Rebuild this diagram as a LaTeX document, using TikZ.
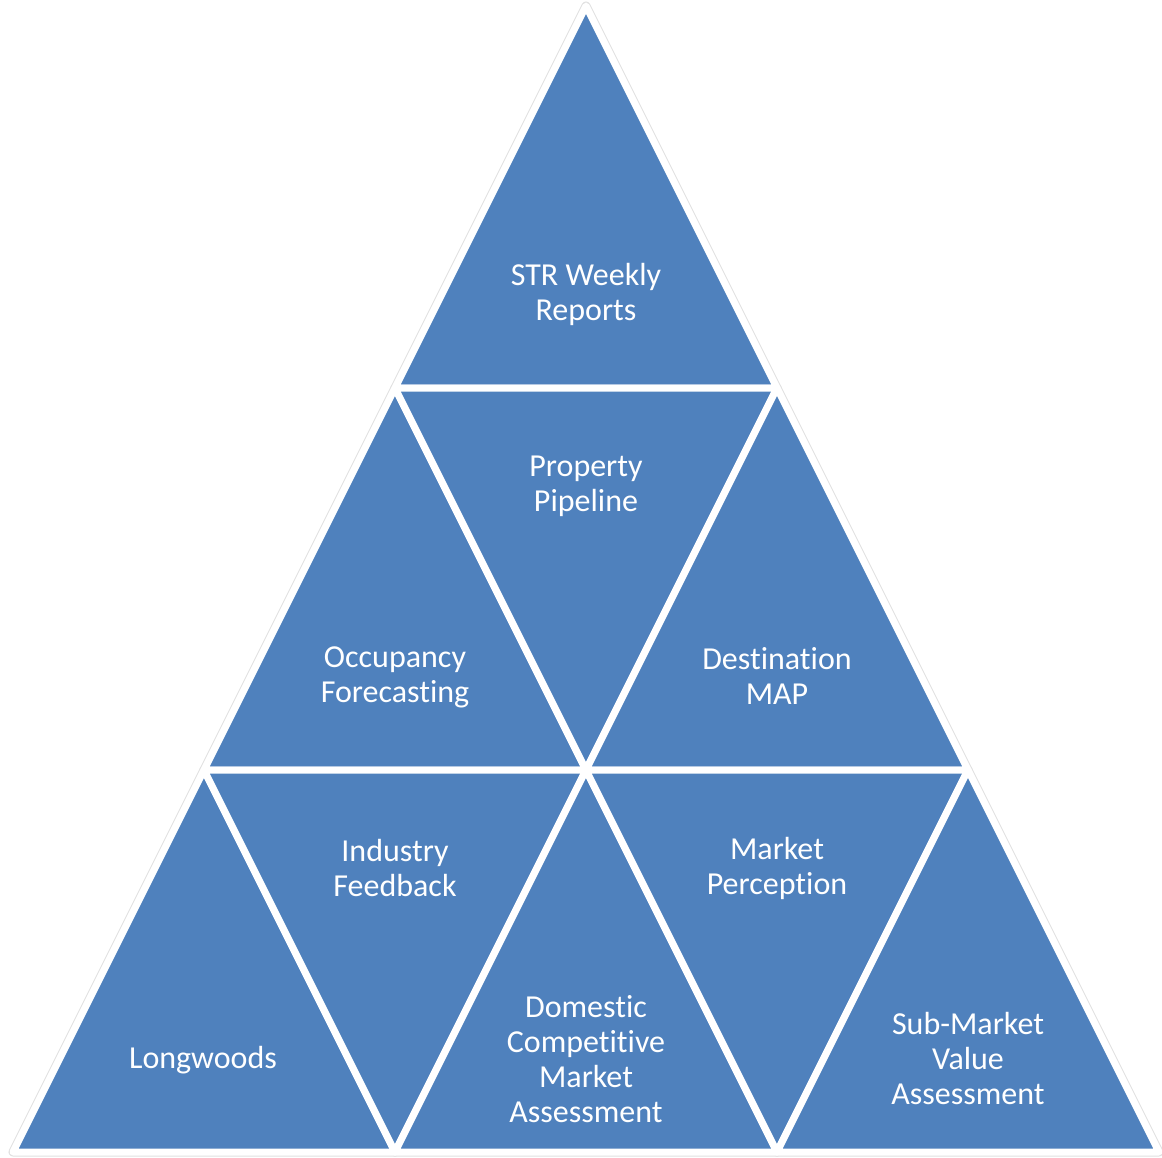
\documentclass[tikz,border=0pt]{standalone}
\usepackage{fontspec}
\setmainfont[Ligatures={NoCommon}]{Carlito}
\definecolor{tblue}{HTML}{4F81BD}
\begin{document}
\begin{tikzpicture}[x=1pt,y=-1pt,
  tri/.style={fill=tblue,draw=white,line width=7pt,line join=round},
  shad/.style={draw=black!12,line width=9pt,line join=round},
  lbl/.style={text=white,font=\fontsize{32pt}{35pt}\selectfont,align=center,inner sep=0pt}]
\useasboundingbox (0,0) rectangle (1162,1158);
% grid points P(k,j)
\foreach \k in {0,...,3}{
  \foreach \j in {0,...,\k}{
    \coordinate (p\k\j) at ({586-191*\k+382*\j},{6+382*\k});
  }
}
% shadows
\foreach \a/\b/\c in {p00/p10/p11, p10/p20/p21, p10/p11/p21, p11/p21/p22,
  p20/p30/p31, p20/p21/p31, p21/p31/p32, p21/p22/p32, p22/p32/p33}{
  \draw[shad,shift={(1.5,2)}] (\a) -- (\b) -- (\c) -- cycle;
}
% triangles
\foreach \a/\b/\c in {p00/p10/p11, p10/p20/p21, p10/p11/p21, p11/p21/p22,
  p20/p30/p31, p20/p21/p31, p21/p31/p32, p21/p22/p32, p22/p32/p33}{
  \draw[tri] (\a) -- (\b) -- (\c) -- cycle;
}
\node[lbl] (str) at (586,294) {STR Weekly\\Reports};
\node[lbl] (pp) at (586,486) {Property\\Pipeline};
\node[lbl] (occ) at (395,677) {Occupancy\\Forecasting};
\node[lbl] (dest) at (777,676) {Destination\\MAP};
\node[lbl] (ind) at (395,868) {Industry\\Feedback};
\node[lbl] (mkt) at (777,868) {Market\\Perception};
\node[lbl] (lw) at (203,1060) {Longwoods};
\node[lbl] (dom) at (586,1059) {Domestic\\Competitive\\Market\\Assessment};
\node[lbl] (sub) at (968,1058) {Sub-Market\\Value\\Assessment};
\end{tikzpicture}
\end{document}
